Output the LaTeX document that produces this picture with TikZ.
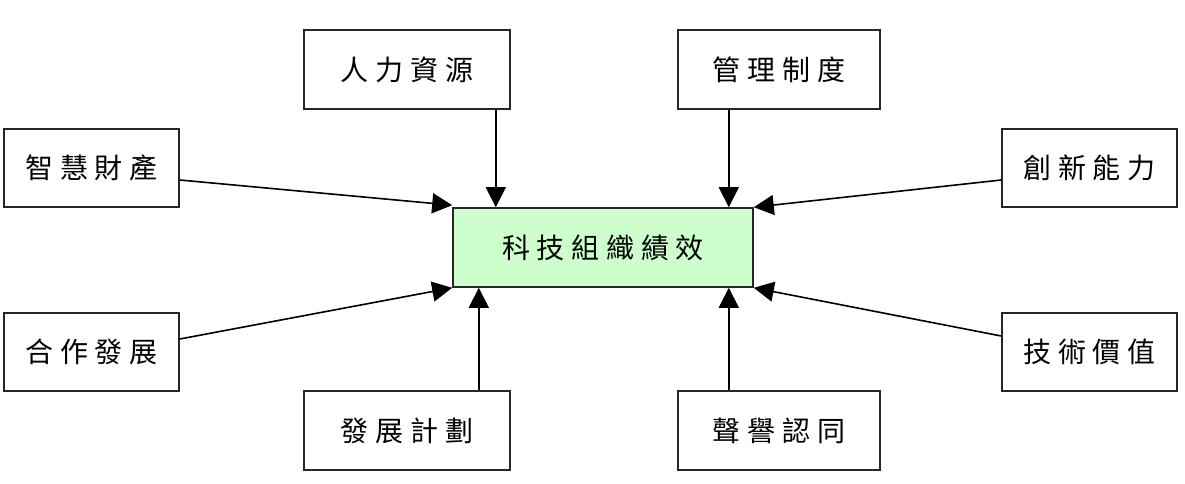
\documentclass[tikz,border=0pt]{standalone}
\usepackage{fontspec}
\newfontfamily\cjk[LetterSpace=24]{Noto Sans CJK TC}
\usetikzlibrary{arrows.meta}
\begin{document}
\begin{tikzpicture}[x=1pt,y=-1pt,
  box/.style={draw=black!85,line width=1.6pt,inner sep=0pt,font=\cjk\fontsize{28}{30}\selectfont},
  arr/.style={line width=1.6pt,-{Triangle[length=20pt,width=20pt]}}]
\useasboundingbox (0,0) rectangle (1185,484);
\node[box,fill={rgb,255:red,204;green,255;blue,204},minimum width=300pt,minimum height=79pt] (c) at (603,247.5) {科技組織績效};
\node[box,minimum width=206pt,minimum height=79pt] (rl) at (407,69.5) {人力資源};
\node[box,minimum width=202pt,minimum height=79pt] (gl) at (779,69.5) {管理制度};
\node[box,minimum width=175pt,minimum height=78pt] (zh) at (91.5,168) {智慧財產};
\node[box,minimum width=175pt,minimum height=78pt] (cx) at (1089.5,168) {創新能力};
\node[box,minimum width=175pt,minimum height=78pt] (hz) at (91.5,352) {合作發展};
\node[box,minimum width=175pt,minimum height=78pt] (js) at (1089.5,352) {技術價值};
\node[box,minimum width=206pt,minimum height=79pt] (fz) at (407,430.5) {發展計劃};
\node[box,minimum width=202pt,minimum height=79pt] (sy) at (779,430.5) {聲譽認同};
\draw[arr] ([xshift=-15pt]rl.south east) -- ([xshift=-15pt]rl.south east |- c.north);
\draw[arr] ([xshift=-152pt]gl.south east) -- ([xshift=-152pt]gl.south east |- c.north);
\draw[arr] ([xshift=-32pt]fz.north east) -- ([xshift=-32pt]fz.north east |- c.south);
\draw[arr] ([xshift=-152pt]sy.north east) -- ([xshift=-152pt]sy.north east |- c.south);
\draw[arr] ([yshift=-12pt]zh.east) -- ([yshift=2pt]c.north west);
\draw[arr] ([yshift=-12pt]cx.west) -- (c.north east);
\draw[arr] ([yshift=13pt]hz.east) -- (c.south west);
\draw[arr] ([yshift=16pt]js.west) -- (c.south east);
\end{tikzpicture}
\end{document}
